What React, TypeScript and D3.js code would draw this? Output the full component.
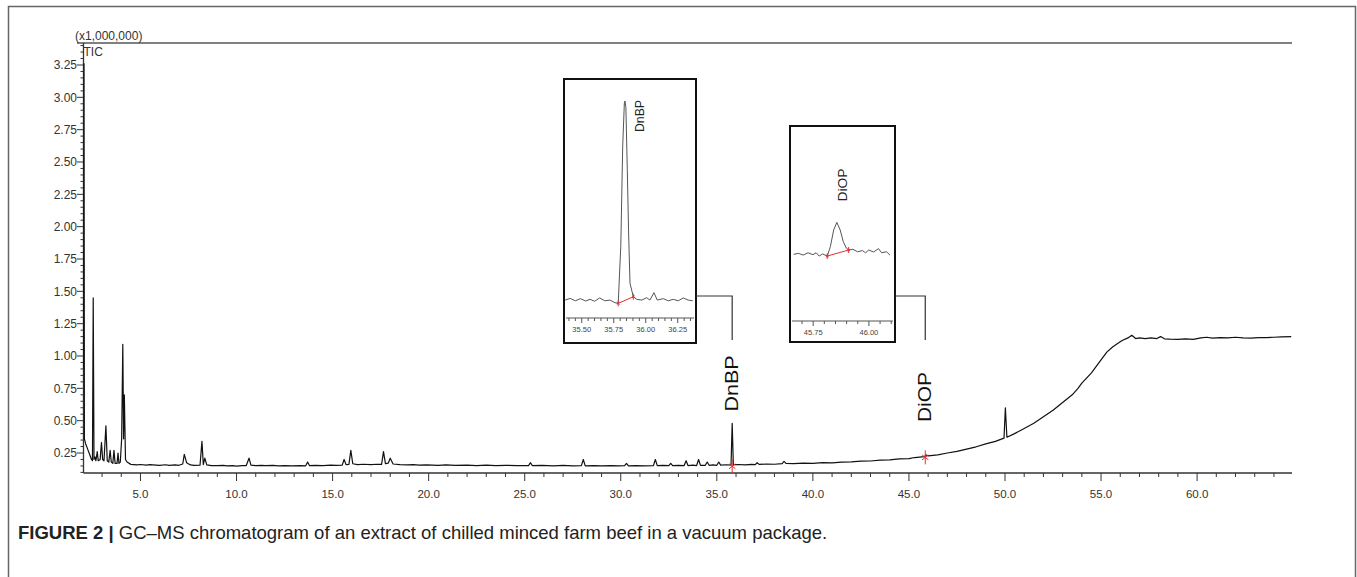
import React from "react";
import * as d3 from "d3";

// ---------- DATA ----------
// main TIC trace: [retention time (min), intensity (x1,000,000)]
const mainTrace: [number, number][] = [
  [2.04, 0.9], [2.06, 3.26], [2.08, 0.36], [2.15, 0.32], [2.25, 0.28], [2.35, 0.24], [2.45, 0.2], [2.5, 0.19],
  [2.54, 1.45], [2.58, 0.2], [2.63, 0.22], [2.68, 0.19], [2.75, 0.26], [2.8, 0.19], [2.9, 0.2], [2.97, 0.33],
  [3.03, 0.2], [3.1, 0.19], [3.2, 0.46], [3.27, 0.19], [3.35, 0.18], [3.42, 0.27], [3.48, 0.18], [3.56, 0.17],
  [3.62, 0.27], [3.68, 0.17], [3.78, 0.17], [3.83, 0.25], [3.88, 0.17], [3.95, 0.18], [4.02, 0.36], [4.08, 1.09],
  [4.12, 0.36], [4.16, 0.7], [4.22, 0.2], [4.3, 0.18], [4.5, 0.162], [4.8, 0.158], [5.0, 0.161], [5.3, 0.156],
  [5.5, 0.16], [5.8, 0.157], [6.0, 0.155], [6.3, 0.159], [6.5, 0.155], [6.8, 0.158], [7.0, 0.155], [7.2, 0.165],
  [7.28, 0.24], [7.4, 0.175], [7.6, 0.158], [7.8, 0.154], [8.1, 0.156], [8.2, 0.34], [8.27, 0.16], [8.35, 0.21],
  [8.45, 0.158], [8.7, 0.153], [9.0, 0.152], [9.3, 0.155], [9.5, 0.15], [9.8, 0.152], [10.0, 0.149],
  [10.3, 0.153], [10.5, 0.152], [10.65, 0.21], [10.75, 0.156], [11.0, 0.152], [11.3, 0.155], [11.5, 0.152],
  [11.9, 0.154], [12.2, 0.151], [12.5, 0.153], [12.9, 0.15], [13.3, 0.153], [13.6, 0.151], [13.7, 0.18],
  [13.8, 0.152], [14.1, 0.155], [14.5, 0.153], [14.9, 0.156], [15.2, 0.154], [15.5, 0.156], [15.6, 0.2],
  [15.7, 0.16], [15.85, 0.162], [15.95, 0.27], [16.05, 0.167], [16.3, 0.16], [16.6, 0.163], [17.0, 0.16],
  [17.3, 0.163], [17.55, 0.162], [17.65, 0.26], [17.75, 0.168], [17.9, 0.172], [18.0, 0.21], [18.15, 0.165],
  [18.5, 0.16], [18.9, 0.158], [19.2, 0.16], [19.5, 0.156], [19.9, 0.158], [20.5, 0.155], [20.9, 0.158],
  [21.4, 0.154], [22.0, 0.156], [22.5, 0.153], [23.0, 0.156], [23.5, 0.152], [24.0, 0.155], [24.6, 0.152],
  [25.2, 0.153], [25.3, 0.175], [25.4, 0.152], [25.9, 0.154], [26.5, 0.151], [27.0, 0.154], [27.5, 0.151],
  [27.95, 0.152], [28.05, 0.2], [28.15, 0.151], [28.6, 0.153], [29.0, 0.15], [29.5, 0.153], [29.9, 0.151],
  [30.2, 0.152], [30.3, 0.17], [30.4, 0.151], [30.8, 0.153], [31.2, 0.151], [31.7, 0.152], [31.8, 0.2],
  [31.9, 0.152], [32.2, 0.154], [32.5, 0.152], [32.6, 0.17], [32.7, 0.152], [33.0, 0.155], [33.3, 0.153],
  [33.4, 0.19], [33.5, 0.153], [33.75, 0.156], [33.95, 0.153], [34.05, 0.2], [34.15, 0.154], [34.4, 0.155],
  [34.5, 0.18], [34.6, 0.155], [34.8, 0.158], [35.0, 0.155], [35.1, 0.18], [35.2, 0.156], [35.5, 0.159],
  [35.74, 0.157], [35.8, 0.48], [35.86, 0.158], [36.1, 0.161], [36.5, 0.158], [36.8, 0.162], [37.0, 0.16],
  [37.1, 0.175], [37.2, 0.162], [37.6, 0.165], [38.0, 0.163], [38.4, 0.168], [38.5, 0.185], [38.6, 0.17],
  [39.0, 0.168], [39.5, 0.172], [40.0, 0.17], [40.5, 0.175], [41.0, 0.174], [41.5, 0.18], [42.0, 0.181],
  [42.5, 0.187], [43.0, 0.188], [43.5, 0.195], [44.0, 0.197], [44.5, 0.205], [45.0, 0.207], [45.3, 0.215],
  [45.8, 0.222], [45.9, 0.235], [46.0, 0.228], [46.5, 0.236], [47.0, 0.25], [47.5, 0.262], [48.0, 0.28],
  [48.5, 0.298], [49.0, 0.32], [49.5, 0.34], [49.95, 0.365], [50.02, 0.6], [50.1, 0.372], [50.5, 0.4],
  [51.0, 0.44], [51.5, 0.48], [52.0, 0.53], [52.5, 0.58], [53.0, 0.64], [53.5, 0.7], [53.8, 0.75],
  [54.0, 0.79], [54.5, 0.87], [55.0, 0.97], [55.3, 1.03], [55.6, 1.07], [55.9, 1.1], [56.1, 1.12],
  [56.4, 1.14], [56.6, 1.16], [56.8, 1.135], [57.0, 1.14], [57.3, 1.135], [57.6, 1.14], [57.9, 1.135],
  [58.1, 1.15], [58.3, 1.133], [58.6, 1.13], [59.0, 1.128], [59.4, 1.132], [59.8, 1.128], [60.2, 1.14],
  [60.5, 1.145], [60.8, 1.138], [61.2, 1.142], [61.6, 1.14], [62.0, 1.145], [62.4, 1.14], [62.8, 1.138],
  [63.2, 1.142], [63.6, 1.142], [64.0, 1.145], [64.4, 1.148], [64.9, 1.15],
];

const yTickLabels = [0.25, 0.5, 0.75, 1.0, 1.25, 1.5, 1.75, 2.0, 2.25, 2.5, 2.75, 3.0, 3.25];
const xTickLabels = [5, 10, 15, 20, 25, 30, 35, 40, 45, 50, 55, 60];

// compounds marked on the main trace
const compounds = [
  { name: "DnBP", rt: 35.8, base: 0.155 },
  { name: "DiOP", rt: 45.85, base: 0.224 },
];

// inset traces: [retention time, relative intensity]
const dnbpInset: [number, number][] = [
  [35.37, 0.075], [35.41, 0.082], [35.45, 0.072], [35.49, 0.081], [35.53, 0.071], [35.565, 0.078],
  [35.6, 0.07], [35.64, 0.084], [35.68, 0.072], [35.72, 0.075], [35.76, 0.064], [35.785, 0.061],
  [35.805, 0.3], [35.82, 0.72], [35.833, 0.9], [35.838, 0.908], [35.845, 0.88], [35.856, 0.62],
  [35.866, 0.36], [35.877, 0.145], [35.903, 0.089], [35.93, 0.078], [35.97, 0.075], [36.007, 0.085],
  [36.033, 0.075], [36.064, 0.106], [36.09, 0.075], [36.137, 0.081], [36.176, 0.072], [36.215, 0.078],
  [36.254, 0.072], [36.293, 0.084], [36.332, 0.075], [36.367, 0.072],
];
const diopInset: [number, number][] = [
  [45.662, 0.342], [45.684, 0.347], [45.705, 0.338], [45.727, 0.35], [45.749, 0.34], [45.763, 0.35],
  [45.777, 0.333], [45.792, 0.344], [45.813, 0.333], [45.827, 0.381], [45.842, 0.467], [45.856, 0.506],
  [45.871, 0.467], [45.885, 0.407], [45.899, 0.373], [45.909, 0.364], [45.928, 0.368], [45.949, 0.355],
  [45.971, 0.361], [45.985, 0.35], [45.999, 0.364], [46.021, 0.354], [46.043, 0.371], [46.057, 0.35],
  [46.079, 0.355], [46.094, 0.338],
];
const dnbpIntegration: [number, number][] = [[35.785, 0.061], [35.903, 0.089]];
const diopIntegration: [number, number][] = [[45.813, 0.333], [45.909, 0.364]];
const dnbpInsetLabels = [35.5, 35.75, 36.0, 36.25];
const diopInsetLabels = [45.75, 46.0];

const caption = "GC\u2013MS chromatogram of an extract of chilled minced farm beef in a vacuum package.";

// ---------- LAYOUT ----------
const W = 1357;
const H = 577;
const plot = { left: 83.5, right: 1292, top: 43, bottom: 473 };
const FONT = "'Liberation Sans', Arial, sans-serif";
const TEXT = "#333";

const x = d3.scaleLinear().domain([2.034, 64.94]).range([plot.left, plot.right]);
const y = d3.scaleLinear().domain([0.0954, 3.42]).range([plot.bottom, plot.top]);

type InsetCfg = {
  box: { x: number; y: number; w: number; h: number };
  axisY: number;
  xDomain: [number, number];
  data: [number, number][];
  integ: [number, number][];
  labels: number[];
  minorStep: number;
  name: string;
  nameFont: number;
  nameLen: number;
  nameDx: number;
  nameY: number;
  connectY: number;
  rt: number;
};

const insets: InsetCfg[] = [
  {
    box: { x: 564, y: 79, w: 132, h: 264 },
    axisY: 318,
    xDomain: [35.377, 36.377],
    data: dnbpInset,
    integ: dnbpIntegration,
    labels: dnbpInsetLabels,
    minorStep: 0.05,
    name: "DnBP",
    nameFont: 12,
    nameLen: 32,
    nameDx: 15,
    nameY: 116,
    connectY: 296,
    rt: 35.8,
  },
  {
    box: { x: 790, y: 126, w: 105, h: 216 },
    axisY: 321,
    xDomain: [45.655, 46.108],
    data: diopInset,
    integ: diopIntegration,
    labels: diopInsetLabels,
    minorStep: 0.05,
    name: "DiOP",
    nameFont: 13,
    nameLen: 33,
    nameDx: 6,
    nameY: 185,
    connectY: 296,
    rt: 45.85,
  },
];

function Star({ cx, cy, s }: { cx: number; cy: number; s: number }) {
  return (
    <g stroke="#e03030" strokeWidth={1} fill="none">
      <line x1={cx} y1={cy - s} x2={cx} y2={cy + s} />
      <line x1={cx - s * 0.45} y1={cy - s * 0.35} x2={cx + s * 0.45} y2={cy + s * 0.35} />
      <line x1={cx - s * 0.45} y1={cy + s * 0.35} x2={cx + s * 0.45} y2={cy - s * 0.35} />
    </g>
  );
}

function Inset({ cfg }: { cfg: InsetCfg }) {
  const { box } = cfg;
  const ix = d3.scaleLinear().domain(cfg.xDomain).range([box.x + 2, box.x + box.w - 2]);
  const iy = d3.scaleLinear().domain([0, 1]).range([cfg.axisY, box.y]);
  const line = d3.line<[number, number]>().x((d) => ix(d[0])).y((d) => iy(d[1]));
  const minor: number[] = [];
  const start = Math.ceil(cfg.xDomain[0] / cfg.minorStep);
  const end = Math.floor(cfg.xDomain[1] / cfg.minorStep);
  for (let i = start; i <= end; i++) minor.push(+(i * cfg.minorStep).toFixed(3));
  const isMajor = (v: number) => cfg.labels.some((l) => Math.abs(l - v) < 1e-6);
  const apex = cfg.data.reduce((a, b) => (b[1] > a[1] ? b : a));
  const connX = x(cfg.rt);
  return (
    <g>
      <path d={line(cfg.data) || ""} fill="none" stroke="#555" strokeWidth={1} />
      <path d={line(cfg.integ) || ""} fill="none" stroke="#e03030" strokeWidth={1} />
      {cfg.integ.map((p, i) => (
        <Star key={i} cx={ix(p[0])} cy={iy(p[1])} s={3} />
      ))}
      <text
        transform={`translate(${ix(apex[0]) + cfg.nameDx},${cfg.nameY}) rotate(-90)`}
        textAnchor="middle"
        dominantBaseline="central"
        fontFamily={FONT}
        fontSize={cfg.nameFont}
        textLength={cfg.nameLen}
        lengthAdjust="spacingAndGlyphs"
        fill="#222"
      >
        {cfg.name}
      </text>
      <line x1={box.x + 2} x2={box.x + box.w - 2} y1={cfg.axisY} y2={cfg.axisY} stroke="#555" strokeWidth={1} />
      {minor.map((v) => (
        <line key={v} x1={ix(v)} x2={ix(v)} y1={cfg.axisY} y2={cfg.axisY + (isMajor(v) ? 5 : 3)} stroke="#555" strokeWidth={1} />
      ))}
      {cfg.labels.map((v) => (
        <text key={v} x={ix(v)} y={cfg.axisY + 14} textAnchor="middle" fontFamily={FONT} fontSize={7.5} fill="#444">
          {v.toFixed(2)}
        </text>
      ))}
      <rect x={box.x} y={box.y} width={box.w} height={box.h} fill="none" stroke="#111" strokeWidth={2} />
      <polyline
        points={`${box.x + box.w},${cfg.connectY} ${connX},${cfg.connectY} ${connX},${cfg.connectY + 44}`}
        fill="none"
        stroke="#333"
        strokeWidth={1.2}
      />
    </g>
  );
}

export default function App() {
  const line = d3.line<[number, number]>().x((d) => x(d[0])).y((d) => y(d[1]));

  const yTicks: number[] = [];
  for (let i = 2; i <= 68; i++) yTicks.push(i);
  const xTicks: number[] = [];
  for (let t = 3; t <= 64; t++) xTicks.push(t);

  return (
    <svg width={W} height={H} style={{ position: "absolute", left: 0, top: 0, background: "#fff" }}>
      <rect x={0} y={0} width={W} height={H} fill="#fff" />
      {/* outer frame */}
      <path d={`M8.5,${H} V6.5 H1355.5 V${H}`} fill="none" stroke="#666" strokeWidth={1.5} />

      {/* top frame line */}
      <line x1={77} x2={plot.right} y1={plot.top} y2={plot.top} stroke="#808080" strokeWidth={2} />

      {/* y axis */}
      <line x1={plot.left} x2={plot.left} y1={plot.top} y2={plot.bottom} stroke="#333" strokeWidth={1.3} />
      {yTicks.map((i) => {
        const v = i * 0.05;
        const major = i % 5 === 0;
        return (
          <line key={i} x1={plot.left - (major ? 6.5 : 3)} x2={plot.left} y1={y(v)} y2={y(v)} stroke="#333" strokeWidth={1} />
        );
      })}
      {yTickLabels.map((v) => (
        <text key={v} x={plot.left - 6.5} y={y(v)} dy="0.35em" textAnchor="end" fontFamily={FONT} fontSize={12} fill={TEXT}>
          {v.toFixed(2)}
        </text>
      ))}
      <text x={75} y={40} fontFamily={FONT} fontSize={12} fill={TEXT}>(x1,000,000)</text>
      <text x={plot.left} y={56} fontFamily={FONT} fontSize={12} fill={TEXT}>TIC</text>

      {/* x axis */}
      <line x1={plot.left} x2={plot.right} y1={plot.bottom} y2={plot.bottom} stroke="#333" strokeWidth={1.3} />
      {xTicks.map((t) => (
        <line key={t} x1={x(t)} x2={x(t)} y1={plot.bottom} y2={plot.bottom + (t % 5 === 0 ? 8 : 4)} stroke="#333" strokeWidth={1} />
      ))}
      {xTickLabels.map((t) => (
        <text key={t} x={x(t)} y={plot.bottom + 25} textAnchor="middle" fontFamily={FONT} fontSize={11.5} fill={TEXT}>
          {t.toFixed(1)}
        </text>
      ))}

      {/* main trace */}
      <path d={line(mainTrace) || ""} fill="none" stroke="#111" strokeWidth={1.2} strokeLinejoin="round" />

      {/* compound markers and labels */}
      {compounds.map((c, i) => (
        <g key={c.name}>
          <Star cx={x(c.rt)} cy={y(c.base) + 1} s={7} />
          <text
            transform={`translate(${x(c.rt)},${i === 0 ? 383.5 : 397}) rotate(-90)`}
            textAnchor="middle"
            dominantBaseline="central"
            fontFamily={FONT}
            fontSize={18}
            textLength={i === 0 ? 56 : 50}
            lengthAdjust="spacingAndGlyphs"
            fill="#111"
          >
            {c.name}
          </text>
        </g>
      ))}

      {insets.map((cfg) => (
        <Inset key={cfg.name} cfg={cfg} />
      ))}

      {/* caption */}
      <text x={18} y={539} fontFamily={FONT} fontSize={18.5} fill="#222">
        <tspan fontWeight="bold">FIGURE 2 | </tspan>
        <tspan>{caption}</tspan>
      </text>
    </svg>
  );
}
